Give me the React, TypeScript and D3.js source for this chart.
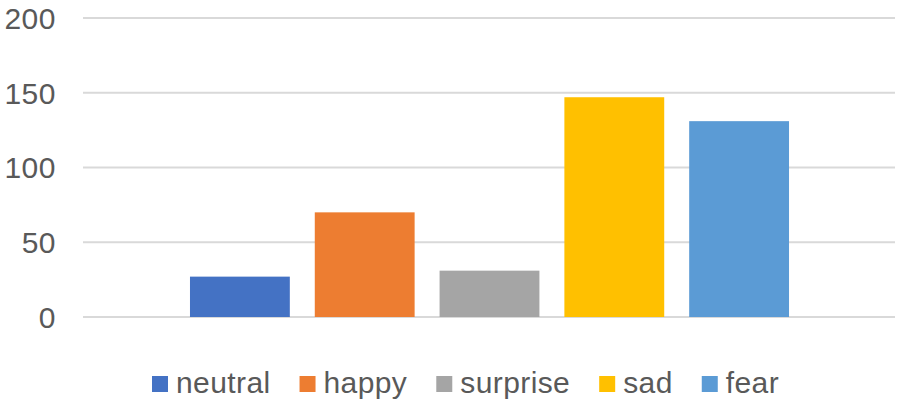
import React, { useRef, useEffect } from 'react';
import * as d3 from 'd3';

const emotions = ['neutral', 'happy', 'surprise', 'sad', 'fear'];
const counts = [27, 70, 31, 147, 131];
const colors = ['#4472C4', '#ED7D31', '#A5A5A5', '#FFC000', '#5B9BD5'];
const yTicks = [0, 50, 100, 150, 200];

const App = () => {
  const svgRef = useRef<SVGSVGElement>(null);
  const width = 900;
  const height = 406;

  useEffect(() => {
    const svg = d3.select(svgRef.current);
    svg.selectAll('*').remove();

    const font = '"Liberation Sans", Arial, sans-serif';

    // plot area
    const y = d3.scaleLinear().domain([0, 200]).range([317, 18]);
    const x = d3.scaleBand()
      .domain(emotions)
      .range([177.5, 801.5])
      .paddingInner(0.2)
      .paddingOuter(0.1);

    // gridlines
    svg.append('g')
      .selectAll('line')
      .data(yTicks)
      .enter().append('line')
      .attr('x1', 83)
      .attr('x2', 895)
      .attr('y1', d => y(d))
      .attr('y2', d => y(d))
      .attr('stroke', '#d9d9d9')
      .attr('stroke-width', 2);

    // y labels
    svg.append('g')
      .selectAll('text')
      .data(yTicks)
      .enter().append('text')
      .attr('x', 56)
      .attr('y', d => y(d))
      .attr('dy', '0.36em')
      .attr('text-anchor', 'end')
      .attr('fill', '#595959')
      .style('font-family', font)
      .style('font-size', '30px')
      .style('letter-spacing', '0.5px')
      .text(d => d);

    // bars
    svg.append('g')
      .selectAll('rect')
      .data(emotions)
      .enter().append('rect')
      .attr('x', d => x(d)!)
      .attr('y', (d, i) => y(counts[i]))
      .attr('width', x.bandwidth())
      .attr('height', (d, i) => y(0) - y(counts[i]))
      .attr('fill', (d, i) => colors[i]);

    // legend
    const legend = svg.append('g');
    let lx = 152;
    emotions.forEach((name, i) => {
      legend.append('rect')
        .attr('x', lx)
        .attr('y', 376)
        .attr('width', 16)
        .attr('height', 16)
        .attr('fill', colors[i]);
      const t = legend.append('text')
        .attr('x', lx + 24)
        .attr('y', 393)
        .attr('fill', '#595959')
        .style('font-family', font)
        .style('font-size', '30px')
        .style('letter-spacing', '0.4px')
        .text(name);
      const w = (t.node() as SVGTextElement).getComputedTextLength();
      lx += 24 + w + 29;
    });
  }, []);

  return (
    <svg
      ref={svgRef}
      width={width}
      height={height}
      style={{ position: 'absolute', left: 0, top: 0, background: '#fff' }}
    />
  );
};

export default App;
